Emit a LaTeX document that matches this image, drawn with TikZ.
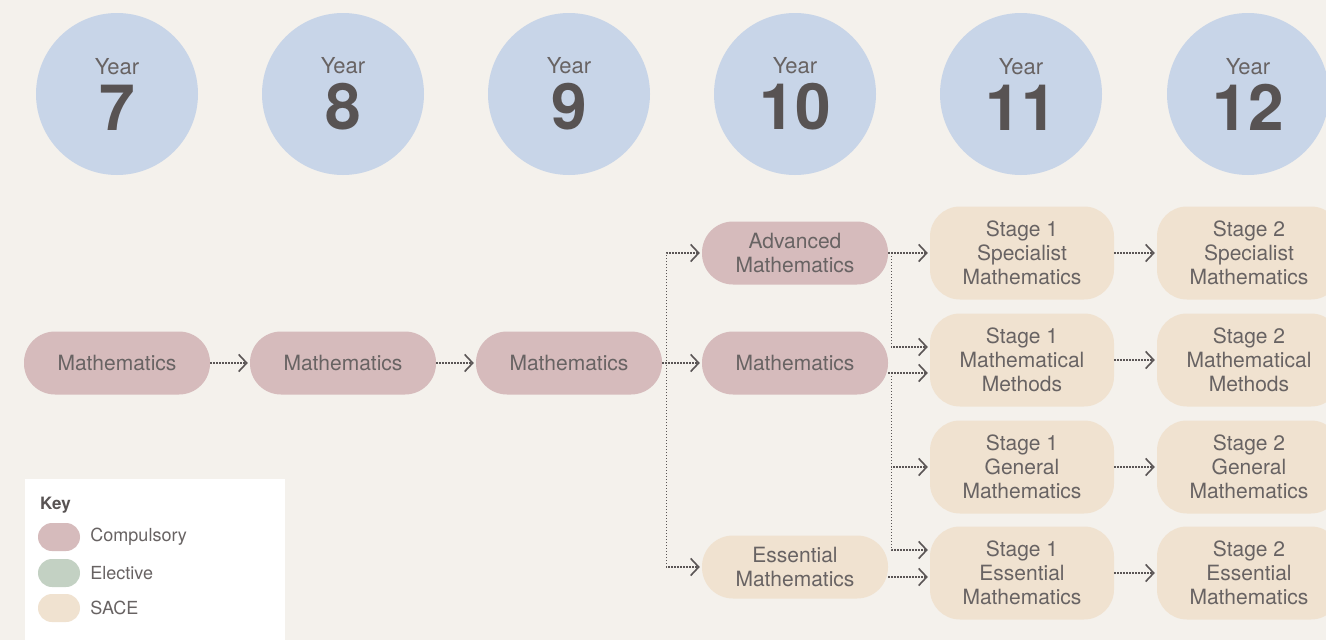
\documentclass[tikz,border=0pt]{standalone}
\usepackage{fontspec}
\setmainfont{TeX Gyre Heros}
\usetikzlibrary{arrows.meta,positioning}

\definecolor{bgcol}{HTML}{F4F1EC}
\definecolor{yearblue}{HTML}{C8D5E8}
\definecolor{comppink}{HTML}{D6BBBC}
\definecolor{electgreen}{HTML}{C3D1C3}
\definecolor{sacebeige}{HTML}{F0E2D0}
\definecolor{txtgray}{HTML}{686363}
\definecolor{numgray}{HTML}{585353}
\definecolor{arrowgray}{HTML}{5A5555}

\begin{document}
\begin{tikzpicture}[x=1pt, y=-1pt,
    circle_year/.style ={circle, fill=yearblue, minimum size=162pt, inner sep=0pt,
      align=center, text=txtgray, font=\fontsize{22}{56}\selectfont},
    block_comp/.style ={rectangle, fill=comppink, rounded corners=31pt, minimum width=186pt,
      minimum height=63pt, inner sep=0pt, align=center, text=txtgray,
      font=\fontsize{21}{24}\selectfont},
    block_ess/.style ={block_comp, fill=sacebeige},
    block_sace/.style ={rectangle, fill=sacebeige, rounded corners=30pt, minimum width=184pt,
      minimum height=93pt, inner sep=0pt, align=center, text=txtgray,
      font=\fontsize{21}{24}\selectfont},
    key_pill/.style ={rectangle, rounded corners=14pt, minimum width=42pt, minimum height=28pt,
      inner sep=0pt},
    key_text/.style ={right=10pt of #1, inner sep=0pt, text=txtgray,
      font=\fontsize{18}{20}\selectfont},
    line/.style ={draw=arrowgray, line width=1.4pt, dash pattern=on 1.4pt off 1.6pt,
      -{Straight Barb[length=8pt, width=17pt, line width=1.6pt, line join=miter]},
      shorten >=2pt}]
    % canvas
    \clip (0,0) rectangle (1326,640);
    \fill[bgcol] (0,0) rectangle (1326,640);
    % year circles
    \foreach \yr/\xc in {7/117, 8/343, 9/569, 10/795, 11/1021, 12/1248}
      \node [circle_year] (year\yr) at (\xc,94)
        {Year\\{\fontsize{64}{56}\selectfont\bfseries\color{numgray}\yr}};
    % compulsory row
    \node [block_comp] (maths7) at (117,363) {Mathematics};
    \node [block_comp] (maths8) at (343,363) {Mathematics};
    \node [block_comp] (maths9) at (569,363) {Mathematics};
    % year 10
    \node [block_comp] (adv10) at (795,253) {Advanced\\Mathematics};
    \node [block_comp] (maths10) at (795,363) {Mathematics};
    \node [block_ess] (ess10) at (795,567) {Essential\\Mathematics};
    % year 11
    \node [block_sace] (spec11) at (1022,253) {Stage 1\\Specialist\\Mathematics};
    \node [block_sace] (meth11) at (1022,360) {Stage 1\\Mathematical\\Methods};
    \node [block_sace] (gen11) at (1022,467) {Stage 1\\General\\Mathematics};
    \node [block_sace] (ess11) at (1022,573) {Stage 1\\Essential\\Mathematics};
    % year 12
    \node [block_sace] (spec12) at (1249,253) {Stage 2\\Specialist\\Mathematics};
    \node [block_sace] (meth12) at (1249,360) {Stage 2\\Mathematical\\Methods};
    \node [block_sace] (gen12) at (1249,467) {Stage 2\\General\\Mathematics};
    \node [block_sace] (ess12) at (1249,573) {Stage 2\\Essential\\Mathematics};
    % key
    \fill[white] (25,479) rectangle (285,640);
    \node [anchor=base west, inner sep=0pt, text=numgray,
      font=\fontsize{17}{20}\selectfont\bfseries] (keytitle) at (40,509) {Key};
    \node [key_pill, fill=comppink] (keycomp) at (59,537) {};
    \node [key_pill, fill=electgreen] (keyelect) at (59,573) {};
    \node [key_pill, fill=sacebeige] (keysace) at (59,608) {};
    \node [key_text=keycomp] {Compulsory};
    \node [key_text=keyelect] {Elective};
    \node [key_text=keysace] {SACE};
    % connecting nodes with paths
    \begin{scope}[every path/.style=line]
      % years 7 to 9
      \path (maths7) -- (maths8);
      \path (maths8) -- (maths9);
      % year 9 to year 10
      \path (maths9.east) -- ++(4,0) |- (adv10);
      \path (maths9.east) -- ++(4,0) |- (maths10);
      \path (maths9.east) -- ++(4,0) |- (ess10);
      % year 10 to year 11
      \path (adv10.east) -- ++(3,0) |- (spec11);
      \path (adv10.east) -- ++(3,0) |- ([yshift=13pt]meth11.west);
      \path ([yshift=-10pt]maths10.east) -- ++(3,0) |- ([yshift=-13pt]meth11.west);
      \path ([yshift=-10pt]maths10.east) -- ++(3,0) |- (gen11);
      \path ([yshift=-10pt]maths10.east) -- ++(3,0) |- ([yshift=23pt]ess11.west);
      \path ([yshift=-10pt]ess10.east) -- ([yshift=-4pt]ess11.west);
      % year 11 to year 12
      \path (spec11) -- (spec12);
      \path (meth11) -- (meth12);
      \path (gen11) -- (gen12);
      \path (ess11) -- (ess12);
    \end{scope}
  \end{tikzpicture}
\end{document}
